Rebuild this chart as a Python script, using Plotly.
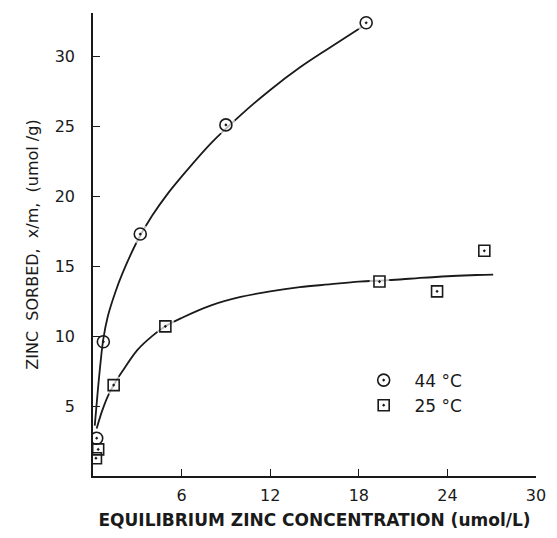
import plotly.graph_objects as go

# ---- data ----
conc_44 = [0.25, 0.7, 3.2, 9.0, 18.5]
sorbed_44 = [2.7, 9.6, 17.3, 25.1, 32.4]

conc_25 = [0.2, 0.35, 1.4, 4.9, 19.4, 23.3, 26.5]
sorbed_25 = [1.27, 1.9, 6.5, 10.7, 13.9, 13.2, 16.1]

# hand-drawn fitted curves
curve44_x = [0.12, 0.3, 0.5, 0.7, 1.0, 1.5, 2.0, 3.0, 4.0, 5.0, 6.0, 8.0, 10.0, 12.0, 14.0, 16.0, 18.2]
curve44_y = [3.6, 5.8, 8.0, 9.8, 11.4, 13.1, 14.5, 16.8, 18.6, 20.1, 21.4, 23.8, 25.8, 27.6, 29.2, 30.6, 32.1]

curve25_x = [0.25, 0.6, 1.0, 1.4, 2.0, 3.0, 4.0, 4.9, 6.0, 8.0, 10.0, 12.0, 14.0, 16.0, 18.0, 20.0, 22.0, 24.0, 26.0, 27.1]
curve25_y = [3.4, 4.6, 5.7, 6.5, 7.5, 9.0, 10.0, 10.7, 11.3, 12.2, 12.8, 13.2, 13.5, 13.7, 13.9, 14.0, 14.15, 14.28, 14.37, 14.4]

x_ticks = [6, 12, 18, 24, 30]
y_ticks = [5, 10, 15, 20, 25, 30]

INK = "#1a1a1a"
fig = go.Figure()

fig.add_trace(go.Scatter(x=curve44_x, y=curve44_y, mode="lines", line=dict(color=INK, width=1.8, shape="spline"),
                         showlegend=False, hoverinfo="skip"))
fig.add_trace(go.Scatter(x=curve25_x, y=curve25_y, mode="lines", line=dict(color=INK, width=1.8, shape="spline"),
                         showlegend=False, hoverinfo="skip"))

# white gaps around the markers, as in the hand-inked original
fig.add_trace(go.Scatter(x=conc_44, y=sorbed_44, mode="markers",
                         marker=dict(color="white", size=[0 if c < 1 else 19 for c in conc_44]),
                         showlegend=False, hoverinfo="skip"))
fig.add_trace(go.Scatter(x=conc_25, y=sorbed_25, mode="markers",
                         marker=dict(color="white", size=[0 if c < 1 else 19 for c in conc_25]),
                         showlegend=False, hoverinfo="skip"))

fig.add_trace(go.Scatter(x=conc_44, y=sorbed_44, mode="markers", name="\u00a0\u00a044 °C",
                         marker=dict(symbol="circle-open-dot", size=12, color=INK, line=dict(color=INK, width=1.6))))
fig.add_trace(go.Scatter(x=conc_25, y=sorbed_25, mode="markers", name="\u00a0\u00a025 °C",
                         marker=dict(symbol="square-open-dot", size=11, color=INK, line=dict(color=INK, width=1.6))))

fig.update_layout(
    width=557, height=538,
    margin=dict(l=93, r=11, t=13, b=58),
    paper_bgcolor="white", plot_bgcolor="white",
    font=dict(family="DejaVu Sans", color=INK, size=16),
    legend=dict(x=0.611, y=0.245, xanchor="left", yanchor="top", bgcolor="rgba(0,0,0,0)",
                tracegroupgap=0, font=dict(size=17, family="DejaVu Sans")),
    xaxis=dict(range=[0, 30], tickvals=x_ticks, ticktext=[str(v) for v in x_ticks],
               showgrid=False, zeroline=False, showline=True, linecolor=INK, linewidth=1.6,
               ticks="inside", ticklen=7, tickwidth=1.4, tickcolor=INK, ticklabelstandoff=4,
               tickfont=dict(size=16),
               title=dict(text="EQUILIBRIUM ZINC CONCENTRATION (umol/L)",
                          font=dict(family="DejaVu Sans", size=17, weight="bold"), standoff=10)),
    yaxis=dict(range=[0, 33.1], tickvals=y_ticks, ticktext=[str(v) for v in y_ticks],
               showgrid=False, zeroline=False, showline=True, linecolor=INK, linewidth=1.6,
               ticks="inside", ticklen=7, tickwidth=1.4, tickcolor=INK, ticklabelstandoff=13,
               tickfont=dict(size=16),
               title=dict(text="ZINC\u00a0\u00a0SORBED,\u00a0\u00a0x/m,\u00a0\u00a0(umol /g)",
                          font=dict(family="DejaVu Sans", size=16), standoff=12)),
)

fig.write_html("out.html")
